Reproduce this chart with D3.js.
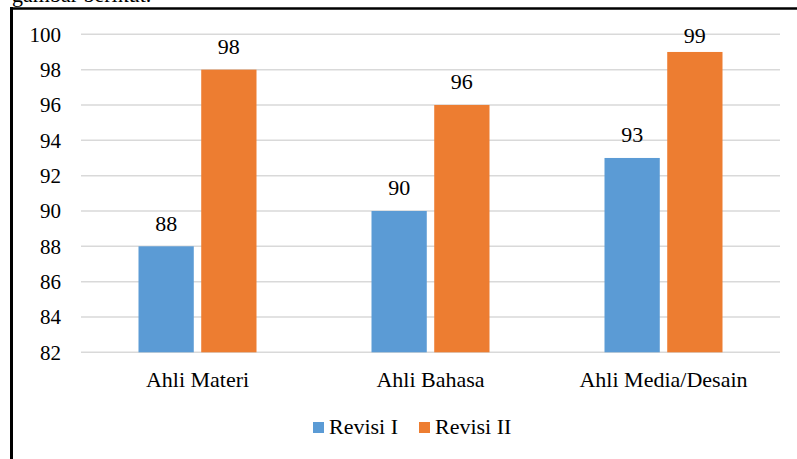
<!DOCTYPE html>
<html lang="id">
<head>
<meta charset="UTF-8">
<title>Revisi I dan Revisi II</title>
<script src="https://d3js.org/d3.v7.min.js"></script>
<style>
  html, body { margin: 0; padding: 0; background: #fff; }
  svg { display: block; }
  svg text { font-family: "Liberation Serif", "Times New Roman", serif !important; fill: #000; }
</style>
</head>
<body>
<div id="chart"></div>
<script>
  var categories = ["Ahli Materi", "Ahli Bahasa", "Ahli Media/Desain"];
  var seriesNames = ["Revisi I", "Revisi II"];
  var revisi1 = [88, 90, 93];
  var revisi2 = [98, 96, 99];
  var yTicks = [82, 84, 86, 88, 90, 92, 94, 96, 98, 100];
  var colors = ["#5b9bd5", "#ed7d31"];

  var W = 797, H = 459;
  var plot = { left: 81, right: 780, top: 34.3, bottom: 352.3 };

  var svg = d3.select("#chart").append("svg")
    .attr("width", W)
    .attr("height", H);

  // sisa teks di atas gambar (terpotong)
  svg.append("text")
    .attr("x", 12)
    .attr("y", 2)
    .attr("font-size", 22)
    .text("gambar berikut.");

  // bingkai
  svg.append("line")
    .attr("x1", 10).attr("x2", W)
    .attr("y1", 8.5).attr("y2", 8.5)
    .attr("stroke", "#000").attr("stroke-width", 2.5);
  svg.append("line")
    .attr("x1", 11.5).attr("x2", 11.5)
    .attr("y1", 7).attr("y2", H)
    .attr("stroke", "#000").attr("stroke-width", 3);

  var x0 = d3.scaleBand()
    .domain(categories)
    .range([plot.left, plot.right]);

  var barW = 52, gap = 14;
  var x1 = d3.scaleBand()
    .domain(seriesNames)
    .range([x0.bandwidth() / 2 - barW - gap / 2, x0.bandwidth() / 2 + barW + gap / 2])
    .paddingInner(gap / (2 * barW + gap));

  var y = d3.scaleLinear()
    .domain([82, 100])
    .range([plot.bottom, plot.top]);

  // garis grid
  svg.append("g")
    .selectAll("line")
    .data(yTicks)
    .enter().append("line")
    .attr("x1", plot.left)
    .attr("x2", plot.right)
    .attr("y1", function (d) { return y(d); })
    .attr("y2", function (d) { return y(d); })
    .attr("stroke", "#d9d9d9")
    .attr("stroke-width", 1.5);

  // sumbu Y
  var yAxis = svg.append("g")
    .attr("transform", "translate(" + plot.left + ",0)")
    .call(d3.axisLeft(y).tickValues(yTicks).tickSize(0).tickPadding(20));
  yAxis.select(".domain").remove();
  yAxis.attr("font-family", null).attr("font-size", 21);

  var data = categories.map(function (c, i) {
    return { cat: c, values: [revisi1[i], revisi2[i]] };
  });

  var groups = svg.append("g")
    .selectAll("g")
    .data(data)
    .enter().append("g")
    .attr("transform", function (d) { return "translate(" + x0(d.cat) + ",0)"; });

  var items = groups.selectAll("g")
    .data(function (d) {
      return seriesNames.map(function (s, j) { return { key: s, idx: j, value: d.values[j] }; });
    })
    .enter().append("g");

  items.append("rect")
    .attr("x", function (d) { return x1(d.key); })
    .attr("y", function (d) { return y(d.value); })
    .attr("width", x1.bandwidth())
    .attr("height", function (d) { return plot.bottom - y(d.value); })
    .attr("fill", function (d) { return colors[d.idx]; });

  items.append("text")
    .attr("x", function (d) { return x1(d.key) + x1.bandwidth() / 2; })
    .attr("y", function (d) { return Math.max(y(d.value) - 15.5, plot.top + 9); })
    .attr("text-anchor", "middle")
    .attr("font-size", 22)
    .text(function (d) { return d.value; });

  // sumbu X
  var xAxis = svg.append("g")
    .attr("transform", "translate(0," + plot.bottom + ")")
    .call(d3.axisBottom(x0).tickSize(0).tickPadding(0));
  xAxis.select(".domain").remove();
  xAxis.attr("font-family", null).attr("font-size", 22);
  xAxis.selectAll("text")
    .attr("dy", null)
    .attr("y", 35);

  // legenda
  var legendX = [313, 419];
  var legend = svg.append("g")
    .selectAll("g")
    .data(seriesNames)
    .enter().append("g")
    .attr("transform", function (d, i) { return "translate(" + legendX[i] + ",422)"; });

  legend.append("rect")
    .attr("width", 11)
    .attr("height", 11)
    .attr("fill", function (d, i) { return colors[i]; });

  legend.append("text")
    .attr("x", 16)
    .attr("y", 12.3)
    .attr("font-size", 22)
    .text(function (d) { return d; });
</script>
</body>
</html>
